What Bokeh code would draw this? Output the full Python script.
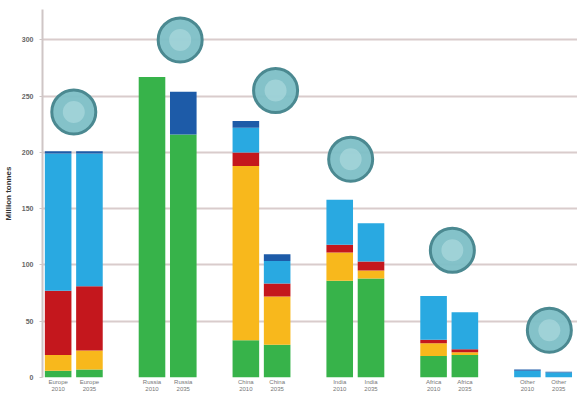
from bokeh.plotting import figure
from bokeh.models import ColumnDataSource, FixedTicker, Range1d
from bokeh.embed import file_html
from bokeh.resources import INLINE

# ---- data ----
regions = ["Europe", "Russia", "China", "India", "Africa", "Other"]
years = ["2010", "2035"]
bar_labels = [f"{r}\n{y}" for r in regions for y in years]

green      = [6, 7, 267, 216, 33, 29, 86, 88, 19, 20, 0, 0]
yellow     = [14, 17, 0, 0, 155, 43, 25, 7, 11.5, 2.5, 0, 0]
red        = [57, 57, 0, 0, 12, 11.5, 7, 8, 3, 2.5, 0, 0]
light_blue = [122, 118, 0, 0, 22, 20, 40, 34, 39, 33, 6, 4.5]
dark_blue  = [2, 2, 0, 38, 6, 6, 0, 0, 0, 0, 1, 0.5]

globe_value  = [236, 300, 255, 194, 113, 42]
globe_offset = [0.0, 0.4, 0.45, -0.15, 0.1, 0.2]

y_ticks = [0, 50, 100, 150, 200, 250, 300]

# ---- layout helpers ----
group_step = 3
bar_x = [g * group_step + d for g in range(len(regions)) for d in (-0.5, 0.5)]
globe_x = [g * group_step + o for g, o in enumerate(globe_offset)]

series = ["green", "yellow", "red", "light_blue", "dark_blue"]
colors = ["#37b34a", "#f8b81c", "#c4171d", "#29a9e1", "#1d5ba8"]

src = ColumnDataSource(dict(x=bar_x, green=green, yellow=yellow, red=red,
                            light_blue=light_blue, dark_blue=dark_blue))

p = figure(width=577, height=394, output_backend="svg", toolbar_location=None,
           x_range=Range1d(-1.0, 16.1), y_range=Range1d(0, 327),
           min_border_top=9, min_border_right=0, min_border_left=0,
           min_border_bottom=0)

p.vbar_stack(series, x="x", width=0.85, color=colors, source=src,
             line_width=0)

# globes
p.scatter(globe_x, globe_value, marker="circle", size=44,
          fill_color="#7dbfc6", line_color="#4b8991", line_width=3,
          fill_alpha=0.95)
p.scatter(globe_x, globe_value, marker="circle", size=22,
          fill_color="#b9e2e6", line_color=None, fill_alpha=0.5)

# axes styling
p.xaxis.ticker = FixedTicker(ticks=bar_x)
p.xaxis.major_label_overrides = {x: lab for x, lab in zip(bar_x, bar_labels)}
p.xaxis.major_label_text_font_size = "6px"
p.xaxis.major_label_text_color = "#777777"
p.xaxis.major_label_text_font = "Liberation Sans"
p.xaxis.major_label_standoff = 1
p.xaxis.axis_line_color = None
p.xaxis.major_tick_line_color = None
p.xaxis.major_tick_out = 0
p.xaxis.major_tick_in = 0
p.xaxis.minor_tick_line_color = None
p.xaxis.minor_tick_out = 0

p.yaxis.ticker = FixedTicker(ticks=y_ticks)
p.yaxis.major_label_text_font_size = "7px"
p.yaxis.major_label_text_font_style = "bold"
p.yaxis.major_label_text_color = "#666666"
p.yaxis.major_label_text_font = "Liberation Sans"
p.yaxis.axis_line_color = "#cfc6c6"
p.yaxis.axis_line_width = 2
p.yaxis.major_tick_line_color = "#cfc6c6"
p.yaxis.major_tick_in = 0
p.yaxis.major_tick_out = 3
p.yaxis.minor_tick_line_color = None
p.yaxis.major_label_standoff = 6
p.yaxis.axis_label = "Million tonnes"
p.yaxis.axis_label_text_font_size = "8px"
p.yaxis.axis_label_text_font_style = "bold"
p.yaxis.axis_label_text_color = "#333333"
p.yaxis.axis_label_text_font = "Liberation Sans"
p.yaxis.axis_label_standoff = 6

p.xgrid.grid_line_color = None
p.ygrid.grid_line_color = "#d9cccc"
p.ygrid.grid_line_width = 2
p.outline_line_color = None

open("out.html", "w").write(file_html(p, INLINE))
